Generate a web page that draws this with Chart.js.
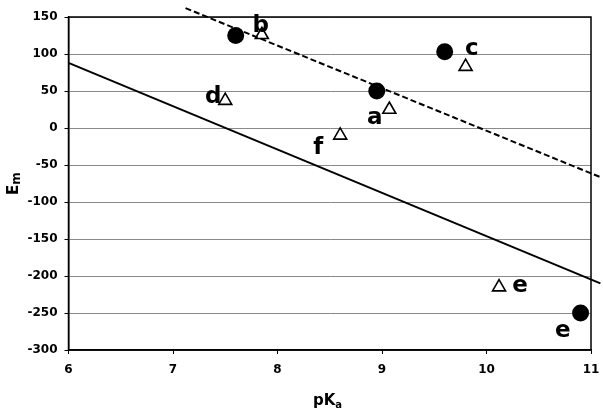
<!DOCTYPE html>
<html>
<head>
<meta charset="utf-8">
<script src="https://cdn.jsdelivr.net/npm/chart.js@4/dist/chart.umd.min.js"></script>
<style>
  body { margin: 0; background: #fff; }
  #wrap { width: 603px; height: 415px; }
</style>
</head>
<body>
<div id="wrap"><canvas id="chart" width="603" height="415"></canvas></div>
<script>
// filled circles
const circleX = [7.6, 9.6, 8.95, 10.9];
const circleY = [125, 103, 50, -250];
// open triangles
const triX = [7.85, 7.5, 9.8, 9.07, 8.6, 10.12];
const triY = [126, 37, 83, 25, -10, -215];
// solid and dashed trend lines (end points)
const solidX = [6, 11.09];
const solidY = [88, -210];
const dashX = [7.12, 11.1];
const dashY = [162, -67];
// point letters
const labelText = ['b', 'c', 'd', 'a', 'f', 'e', 'e'];
const labelX = [7.84, 9.86, 7.385, 8.93, 8.39, 10.32, 10.73];
const labelY = [130, 98, 34, 6, -35, -222, -282];

const zip = (xs, ys) => xs.map((x, i) => ({ x: x, y: ys[i] }));

// frame, letters and axis titles with subscripts
const extras = {
    id: 'extras',
    afterDatasetsDraw(chart) {
        const ctx = chart.ctx;
        const a = chart.chartArea;
        const xs = chart.scales.x, ys = chart.scales.y;
        ctx.save();
        ctx.strokeStyle = '#000';
        ctx.lineWidth = 1.5;
        ctx.strokeRect(a.left, a.top, a.right - a.left, a.bottom - a.top);

        ctx.fillStyle = '#000';
        ctx.font = 'bold 23px "DejaVu Sans"';
        ctx.textAlign = 'center';
        ctx.textBaseline = 'alphabetic';
        labelText.forEach((t, i) => {
            ctx.fillText(t, xs.getPixelForValue(labelX[i]), ys.getPixelForValue(labelY[i]));
        });

        // x title: pKa
        ctx.textAlign = 'left';
        ctx.font = 'bold 15px "DejaVu Sans"';
        const px = 313, py = 405;
        ctx.fillText('pK', px, py);
        const w = ctx.measureText('pK').width;
        ctx.font = 'bold 10px "DejaVu Sans"';
        ctx.fillText('a', px + w, py + 3);

        // y title: Em (rotated)
        ctx.translate(18, 195);
        ctx.rotate(-Math.PI / 2);
        ctx.font = 'bold 15px "DejaVu Sans"';
        ctx.fillText('E', 0, 0);
        const we = ctx.measureText('E').width;
        ctx.font = 'bold 12px "DejaVu Sans"';
        ctx.fillText('m', we, 2);
        ctx.restore();
    }
};

new Chart(document.getElementById('chart').getContext('2d'), {
    type: 'scatter',
    data: {
        datasets: [
            {
                data: zip(solidX, solidY),
                showLine: true,
                borderColor: '#000',
                borderWidth: 2,
                pointRadius: 0,
                clip: false
            },
            {
                data: zip(dashX, dashY),
                showLine: true,
                borderColor: '#000',
                borderWidth: 2,
                borderDash: [6, 3],
                pointRadius: 0,
                clip: false
            },
            {
                data: zip(circleX, circleY),
                pointStyle: 'circle',
                pointRadius: 8.5,
                backgroundColor: '#000',
                borderColor: '#000',
                borderWidth: 0
            },
            {
                data: zip(triX, triY),
                pointStyle: 'triangle',
                pointRadius: 7.5,
                backgroundColor: '#fff',
                borderColor: '#000',
                borderWidth: 1.6
            }
        ]
    },
    options: {
        responsive: false,
        animation: false,
        layout: { padding: { left: 0, right: 12, top: 17, bottom: 0 } },
        plugins: {
            legend: { display: false },
            tooltip: { enabled: false }
        },
        scales: {
            x: {
                type: 'linear',
                min: 6,
                max: 11,
                ticks: {
                    stepSize: 1,
                    color: '#000',
                    padding: 9,
                    font: { family: 'DejaVu Sans', size: 12, weight: 'bold' }
                },
                grid: { drawOnChartArea: false, drawTicks: true, tickLength: 4, color: '#000' },
                border: { color: '#000', width: 1.5 },
                afterFit(s) { s.height = 65; s.paddingLeft = 0; s.paddingRight = 0; }
            },
            y: {
                type: 'linear',
                min: -300,
                max: 150,
                ticks: {
                    stepSize: 50,
                    color: '#000',
                    padding: 7,
                    font: { family: 'DejaVu Sans', size: 12, weight: 'bold' }
                },
                grid: { color: '#8a8a8a', lineWidth: 1, drawTicks: true, tickLength: 4, tickColor: '#000' },
                border: { color: '#000', width: 1.5 },
                afterFit(s) { s.width = 68.5; s.paddingTop = 0; s.paddingBottom = 0; }
            }
        }
    },
    plugins: [extras]
});
</script>
</body>
</html>
